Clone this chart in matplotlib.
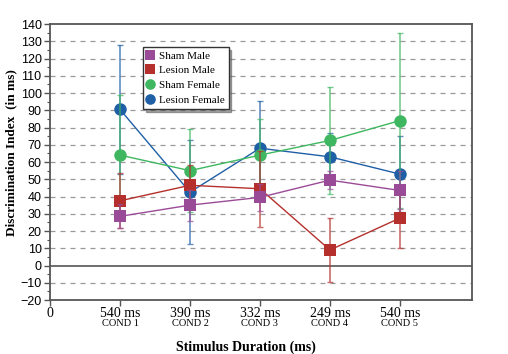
import numpy as np
import matplotlib
matplotlib.use("Agg")
import matplotlib.pyplot as plt
from matplotlib import ticker
from matplotlib.transforms import blended_transform_factory

# data
durations = ["540 ms", "390 ms", "332 ms", "249 ms", "540 ms"]
conds = ["COND 1", "COND 2", "COND 3", "COND 4", "COND 5"]

sham_male = [28.5, 35, 39.5, 49.5, 43.5]
sham_male_err = [7, 9, 8, 5, 11]
lesion_male = [37.5, 46.5, 44.5, 9, 27.5]
lesion_male_err = [16, 12, 22, 18.5, 17.5]
sham_female = [64, 55, 64, 72.5, 84]
sham_female_err = [35, 24, 21, 31, 50.5]
lesion_female = [90.5, 42.5, 68, 63, 53]
lesion_female_err = [37.5, 30, 27.5, 14, 22]

SERIES = [
    ("Sham Male", sham_male, sham_male_err, "#9a4b98", "s", 5),
    ("Lesion Male", lesion_male, lesion_male_err, "#b5302c", "s", 4),
    ("Sham Female", sham_female, sham_female_err, "#3fb760", "o", 3),
    ("Lesion Female", lesion_female, lesion_female_err, "#1f5fa6", "o", 2),
]

fig = plt.figure(figsize=(5.08, 3.54), dpi=100)
ax = fig.add_axes([0.0984, 0.1525, 0.8307, 0.7797])

x = np.arange(1, len(durations) + 1)
handles = []
for name, vals, err, col, mk, z in SERIES:
    ax.errorbar(x, vals, yerr=err, fmt="none", ecolor=col, alpha=0.7,
                elinewidth=1.2, capsize=2.5, capthick=1, zorder=z)
    h, = ax.plot(x, vals, color=col, lw=1, marker=mk, markersize=9,
                 markeredgewidth=0, label=name, zorder=z + 0.5)
    handles.append(h)

ax.set_xlim(0, 6.03)
ax.set_ylim(-20, 140)
ax.yaxis.set_major_locator(ticker.MultipleLocator(10))
ax.yaxis.set_minor_locator(ticker.MultipleLocator(5))
for v in range(-10, 140, 10):
    if v != 0:
        ax.axhline(v, color="#999999", lw=0.9, ls=(0, (4, 4)), zorder=0)
ax.axhline(0, color="#555555", lw=1.2, zorder=1)

ax.set_xticks([0] + list(x))
ax.set_xticklabels(["0"] + durations, family="Liberation Serif", fontsize=10)
ax.tick_params(axis="x", length=4, width=1, color="#555555", pad=1)
ax.tick_params(axis="y", which="major", length=4, width=1, color="#555555",
               labelsize=9, pad=2)
ax.tick_params(axis="y", which="minor", length=2, width=0.8, color="#555555")
for lbl in ax.get_yticklabels():
    lbl.set_family("Liberation Sans")

tr = blended_transform_factory(ax.transData, ax.transAxes)
for xi, c in zip(x, conds):
    ax.text(xi, -0.086, c, transform=tr, ha="center", va="center",
            family="Liberation Serif", fontsize=7.5)

for s in ax.spines.values():
    s.set_color("#555555")
    s.set_linewidth(1.3)

ax.set_ylabel("Discrimination Index  (in ms)", family="Liberation Serif",
              fontweight="bold", fontsize=9.5)
ax.yaxis.set_label_coords(-0.078, 0.536)
ax.set_xlabel("Stimulus Duration (ms)", family="Liberation Serif",
              fontweight="bold", fontsize=10)
ax.xaxis.set_label_coords(0.465, -0.145)

leg = ax.legend(handles=handles, loc="upper left", bbox_to_anchor=(0.22, 0.917),
                borderaxespad=0,
                prop={"family": "Liberation Serif", "size": 8},
                frameon=True, fancybox=False, shadow=True, edgecolor="#333333",
                handlelength=0.6, handletextpad=0.5, borderpad=0.35,
                labelspacing=0.45, markerscale=0.85)
for lh in leg.get_lines():
    lh.set_linestyle("none")
leg.get_frame().set_linewidth(1)

fig.savefig("out.png", dpi=100)
